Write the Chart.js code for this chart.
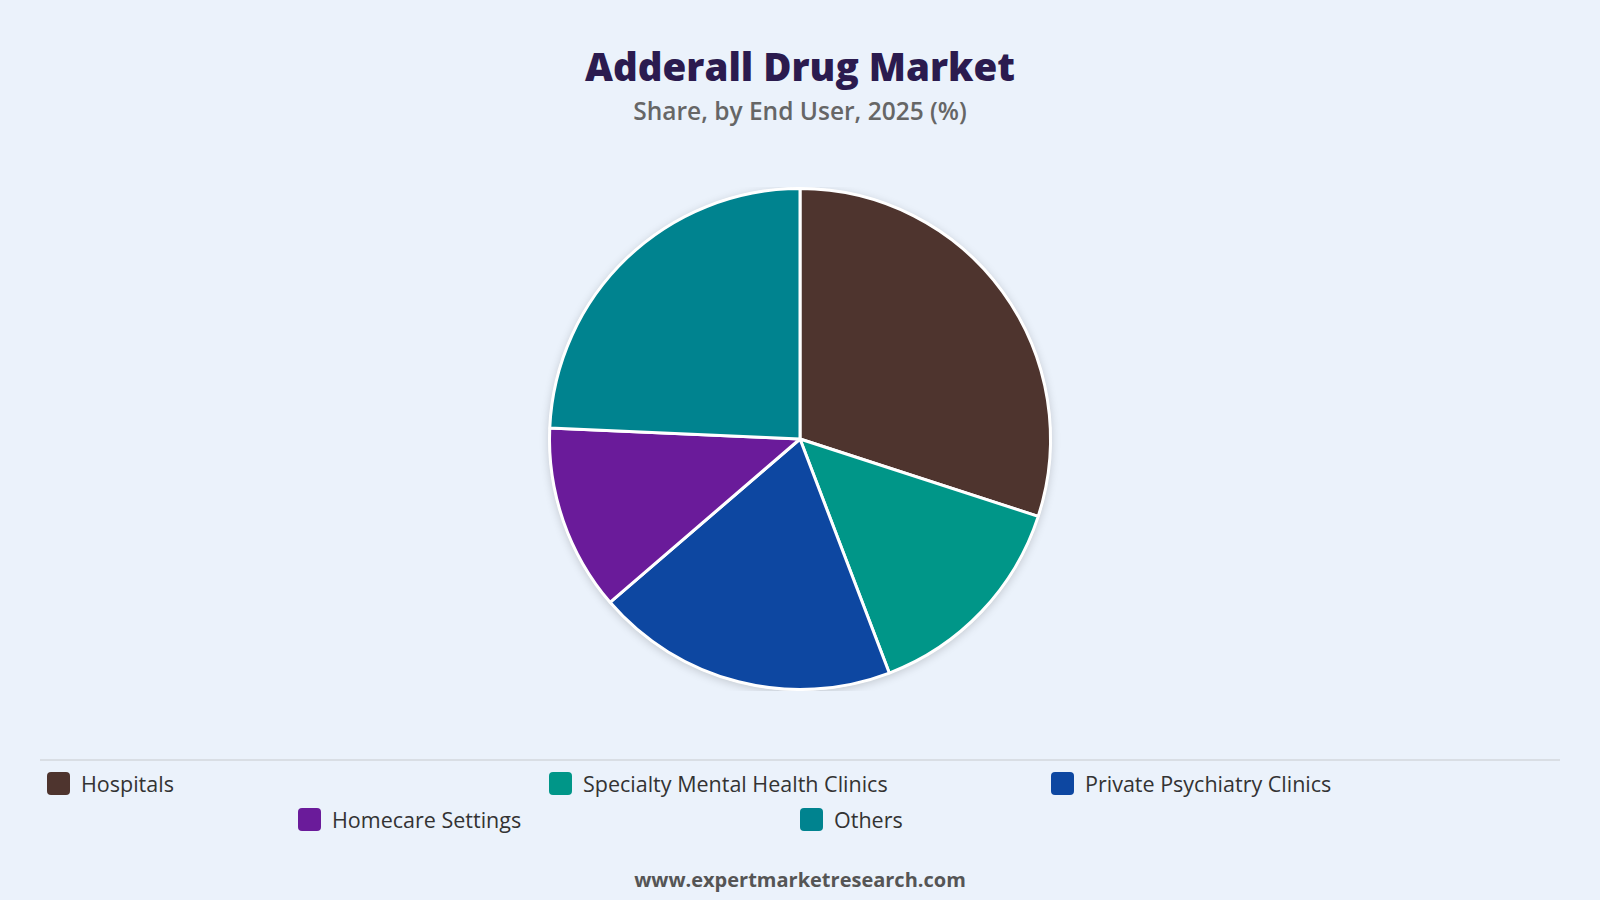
<!DOCTYPE html>
<html>
<head>
<meta charset="utf-8">
<script src="https://cdn.jsdelivr.net/npm/chart.js@4.4.1/dist/chart.umd.min.js"></script>
<style>
  html, body {
    margin: 0;
    padding: 0;
    width: 1600px;
    height: 900px;
    background: #EBF2FB;
    overflow: hidden;
    font-family: "Open Sans", sans-serif;
  }
  #title {
    position: absolute;
    top: 40px;
    left: 0;
    width: 1600px;
    text-align: center;
    font-family: "Open Sans", sans-serif;
    font-weight: 800;
    font-size: 38.5px;
    color: #2B1B4F;
  }
  #subtitle {
    position: absolute;
    top: 94px;
    left: 0;
    width: 1600px;
    text-align: center;
    font-size: 24.5px;
    font-weight: 600;
    color: #666;
  }
  #chartBox {
    position: absolute;
    top: 187px;
    left: 0;
    width: 1600px;
    height: 504px;
  }
  #divider {
    position: absolute;
    top: 759px;
    left: 40px;
    width: 1520px;
    height: 2px;
    background: #D9DEE4;
  }
  #legend {
    position: absolute;
    top: 765px;
    left: 40px;
    width: 1520px;
    display: flex;
    flex-wrap: wrap;
    justify-content: center;
  }
  .item {
    width: 502px;
    height: 36px;
    display: flex;
    align-items: center;
    font-size: 21.5px;
    color: #333;
  }
  .swatch {
    width: 23px;
    height: 23px;
    border-radius: 4px;
    margin-left: 0;
    margin-right: 11px;
  }
  #footer {
    position: absolute;
    top: 866px;
    left: 0;
    width: 1600px;
    text-align: center;
    font-size: 20px;
    font-weight: 700;
    color: #555;
  }
</style>
</head>
<body>
<div id="title">Adderall Drug Market</div>
<div id="subtitle">Share, by End User, 2025 (%)</div>
<div id="chartBox"><canvas id="pieChart"></canvas></div>
<div id="divider"></div>
<div id="legend"></div>
<div id="footer">www.expertmarketresearch.com</div>
<script>
const labels = ["Hospitals", "Specialty Mental Health Clinics", "Private Psychiatry Clinics", "Homecare Settings", "Others"];
const shares = [30, 14.2, 19.5, 12, 24.3];
const colors = ["#4E342E", "#009688", "#0D47A1", "#6A1B9A", "#00838F"];

// legend
const legend = document.getElementById("legend");
labels.forEach(function (label, i) {
  const item = document.createElement("div");
  item.className = "item";
  const sw = document.createElement("span");
  sw.className = "swatch";
  sw.style.background = colors[i];
  const txt = document.createElement("span");
  txt.textContent = label;
  item.appendChild(sw);
  item.appendChild(txt);
  legend.appendChild(item);
});

// soft shadow under the pie
const pieShadow = {
  id: "pieShadow",
  beforeDatasetsDraw(chart) {
    const arc = chart.getDatasetMeta(0).data[0];
    if (!arc) return;
    const ctx = chart.ctx;
    ctx.save();
    ctx.shadowColor = "rgba(0,0,0,0.18)";
    ctx.shadowBlur = 10;
    ctx.shadowOffsetY = 2;
    ctx.fillStyle = "#ffffff";
    ctx.beginPath();
    ctx.arc(arc.x, arc.y, arc.outerRadius + 1, 0, Math.PI * 2);
    ctx.fill();
    ctx.restore();
  }
};

const ctx = document.getElementById("pieChart").getContext("2d");
new Chart(ctx, {
  type: "pie",
  data: {
    labels: labels,
    datasets: [
      {
        data: shares,
        backgroundColor: colors,
        borderColor: "#ffffff",
        borderWidth: 3,
        hoverOffset: 0,
      },
    ],
  },
  options: {
    responsive: true,
    maintainAspectRatio: false,
    animation: false,
    layout: { padding: 0 },
    plugins: {
      legend: { display: false },
      tooltip: { enabled: true },
    },
  },
  plugins: [pieShadow],
});
</script>
</body>
</html>
